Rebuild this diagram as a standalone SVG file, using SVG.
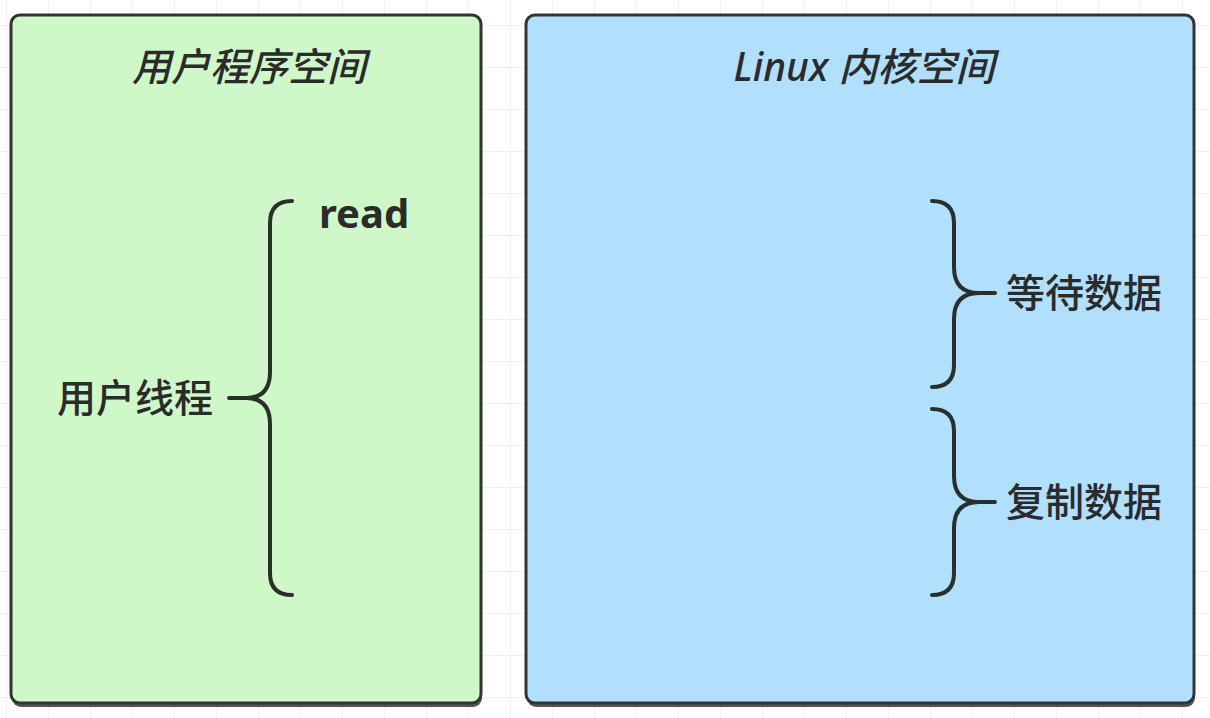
<svg xmlns="http://www.w3.org/2000/svg" width="1210" height="718" viewBox="0 0 1210 718">
  <defs>
    <pattern id="grid" x="6" y="25" width="42" height="42" patternUnits="userSpaceOnUse">
      <path d="M42,0 L0,0 L0,42" fill="none" stroke="#ebebeb" stroke-width="1.5"/>
    </pattern>
    <style>
      .box { stroke: #333; stroke-width: 3; }
      .shadow { fill: #555; }
      .title { font-family: "Noto Sans", "Noto Sans CJK SC", sans-serif; font-style: italic; font-weight: 500; font-size: 39px; fill: #2b2b2b; text-anchor: middle; }
      .label { font-family: "Noto Sans", "Noto Sans CJK SC", sans-serif; font-weight: 500; font-size: 39px; fill: #2b2b2b; }
      .bold { font-weight: bold; font-size: 40px; }
      .brace { fill: none; stroke: #2a2f2a; stroke-width: 4; stroke-linecap: round; stroke-linejoin: round; }
    </style>
  </defs>
  <rect width="1210" height="718" fill="#ffffff"/>
  <rect width="1210" height="718" fill="url(#grid)"/>

  <g id="user-space">
    <rect class="shadow" x="12" y="19" width="470" height="688" rx="9"/>
    <rect class="box" x="11" y="15" width="470" height="688" rx="9" fill="#cff8c8"/>
    <text class="title" x="249" y="81">用户程序空间</text>
    <text class="label" x="57" y="412">用户线程</text>
    <text class="label bold" x="319" y="228">read</text>
  </g>

  <g id="kernel-space">
    <rect class="shadow" x="527" y="19" width="668" height="688" rx="9"/>
    <rect class="box" x="526" y="15" width="668" height="688" rx="9" fill="#b0e0fd"/>
    <text class="title" x="864" y="81">Linux 内核空间</text>
    <text class="label" x="1006" y="307">等待数据</text>
    <text class="label" x="1006" y="516">复制数据</text>
  </g>

  <g id="connectors">
    <path class="brace" d="M292,201 Q270,201 270,223 L270,372 Q270,398 246,398 Q270,398 270,424 L270,573 Q270,595 292,595 M229,398 L250,398"/>
    <path class="brace" d="M932,201 Q954,201 954,223 L954,267 Q954,293 979,293 Q954,293 954,319 L954,365 Q954,387 932,387 M975,293 L995,293"/>
    <path class="brace" d="M932,409 Q954,409 954,431 L954,476 Q954,502 979,502 Q954,502 954,528 L954,573 Q954,595 932,595 M975,502 L995,502"/>
  </g>
</svg>
